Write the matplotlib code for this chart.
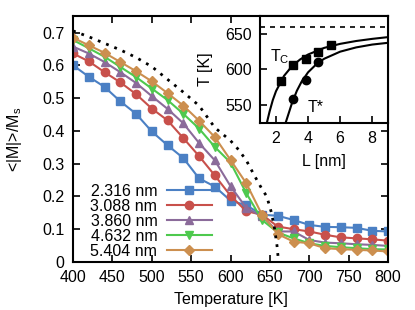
import numpy as np
import matplotlib
matplotlib.use("Agg")
import matplotlib.pyplot as plt

# temperatures of the simulation points
temps = np.arange(400, 801, 20)

labels = ["2.316 nm", "3.088 nm", "3.860 nm", "4.632 nm", "5.404 nm"]
m_2316 = [0.600, 0.565, 0.534, 0.490, 0.452, 0.398, 0.356, 0.317, 0.255, 0.230, 0.187,
          0.173, 0.144, 0.141, 0.128, 0.113, 0.107, 0.106, 0.104, 0.095, 0.093]
m_3088 = [0.636, 0.612, 0.579, 0.548, 0.512, 0.468, 0.432, 0.378, 0.323, 0.264, 0.202,
          0.155, 0.144, 0.108, 0.100, 0.093, 0.083, 0.075, 0.072, 0.069, 0.065]
m_3860 = [0.657, 0.636, 0.610, 0.579, 0.546, 0.506, 0.467, 0.423, 0.363, 0.310, 0.231,
          0.165, 0.139, 0.093, 0.093, 0.067, 0.059, 0.057, 0.054, 0.052, 0.049]
m_4632 = [0.677, 0.652, 0.626, 0.595, 0.564, 0.529, 0.494, 0.452, 0.407, 0.351, 0.303,
          0.210, 0.128, 0.090, 0.072, 0.057, 0.049, 0.045, 0.042, 0.039, 0.038]
m_5404 = [0.684, 0.661, 0.638, 0.610, 0.582, 0.551, 0.515, 0.477, 0.431, 0.381, 0.311,
          0.240, 0.144, 0.085, 0.062, 0.057, 0.042, 0.039, 0.037, 0.035, 0.032]

# bulk curve (dotted)
bulk_t = [400, 420, 440, 460, 480, 500, 520, 540, 560, 580, 600, 610, 620, 630, 640, 646, 652, 656, 659, 661]
bulk_m = [0.705, 0.687, 0.667, 0.647, 0.624, 0.596, 0.557, 0.518, 0.477, 0.410, 0.370, 0.343,
          0.310, 0.265, 0.222, 0.200, 0.150, 0.100, 0.050, 0.0]

# inset data
size_L = [2.316, 3.088, 3.860, 4.632, 5.404]
tc_vals = [584, 606, 615, 625, 635]
tstar_L = [3.088, 3.860, 4.632]
tstar_vals = [559, 585, 610]
tc_fit_L = [1.43, 1.6, 1.8, 2.0, 2.5, 3.0, 3.5, 4.0, 5.0, 6.0, 7.0, 8.0, 9.0]
tc_fit_T = [525, 541, 557, 569.5, 591, 604.7, 614, 621, 630.3, 636, 640, 643, 645.5]
ts_fit_L = [2.6, 2.8, 3.0, 3.3, 3.6, 4.0, 4.5, 5.0, 6.0, 7.0, 8.0, 9.0]
ts_fit_T = [525, 539, 553, 570, 583, 596, 607, 615, 625, 631, 635, 637.5]
t_bulk = 660

colors = ["#4b80c4", "#c8504b", "#8b6b9a", "#4ec94e", "#cc8f4f"]
markers = ["s", "o", "^", "v", "D"]
msizes = [5.8, 6.0, 5.5, 5.5, 4.6]

plt.rcParams["font.family"] = ["Liberation Sans", "DejaVu Sans"]
plt.rcParams["font.size"] = 11.5
plt.rcParams["mathtext.fontset"] = "custom"
plt.rcParams["mathtext.rm"] = "Liberation Sans"

fig = plt.figure(figsize=(4.15, 3.10), dpi=100)
ax = fig.add_axes([0.176, 0.155, 0.759, 0.793])

series = [m_2316, m_3088, m_3860, m_4632, m_5404]
for s, lab, c, mk, ms in zip(series, labels, colors, markers, msizes):
    ax.plot(temps, s, color=c, marker=mk, markersize=ms, linewidth=1.5, label=lab)
ax.plot(bulk_t, bulk_m, color="black", linestyle=(0, (1, 2.2)), linewidth=2)

ax.set_xlim(400, 800)
ax.set_ylim(0, 0.75)
ax.set_xticks(np.arange(400, 801, 50))
ax.set_yticks([0, 0.1, 0.2, 0.3, 0.4, 0.5, 0.6, 0.7])
ax.set_yticklabels(["0", "0.1", "0.2", "0.3", "0.4", "0.5", "0.6", "0.7"])
ax.tick_params(direction="in", length=5, width=1.2, top=True, right=True)
ax.tick_params(axis="x", pad=6)
ax.tick_params(axis="y", pad=6)
for sp in ax.spines.values():
    sp.set_linewidth(1.5)
ax.set_xlabel("Temperature [K]", labelpad=5)
ax.set_ylabel(r"<|M|>/M$_\mathrm{s}$", labelpad=13)

ax.legend(loc="lower left", bbox_to_anchor=(0.035, -0.012), markerfirst=False, frameon=False,
          handlelength=2.8, labelspacing=0.0, handletextpad=0.6, borderaxespad=0.0)

# inset
ins = fig.add_axes([0.6265, 0.604, 0.309, 0.344])
ins.plot(tc_fit_L, tc_fit_T, color="black", linewidth=1.5)
ins.plot(ts_fit_L, ts_fit_T, color="black", linewidth=1.5)
ins.plot(size_L, tc_vals, "s", color="black", markersize=6)
ins.plot(tstar_L, tstar_vals, "o", color="black", markersize=6)
ins.axhline(t_bulk, color="black", linestyle=(0, (3, 3)), linewidth=1.2)
ins.set_xlim(1, 9)
ins.set_ylim(525, 675)
ins.set_xticks([2, 4, 6, 8])
ins.set_yticks([550, 600, 650])
ins.tick_params(direction="in", length=5, width=1.2, pad=6)
for sp in ins.spines.values():
    sp.set_linewidth(1.5)
ins.set_xlabel("L [nm]", labelpad=6)
ins.set_ylabel("T [K]", labelpad=9)
ins.text(1.6, 611, r"T$_\mathrm{C}$")
ins.text(4.0, 540, "T*")

fig.savefig("out.png", dpi=100)
